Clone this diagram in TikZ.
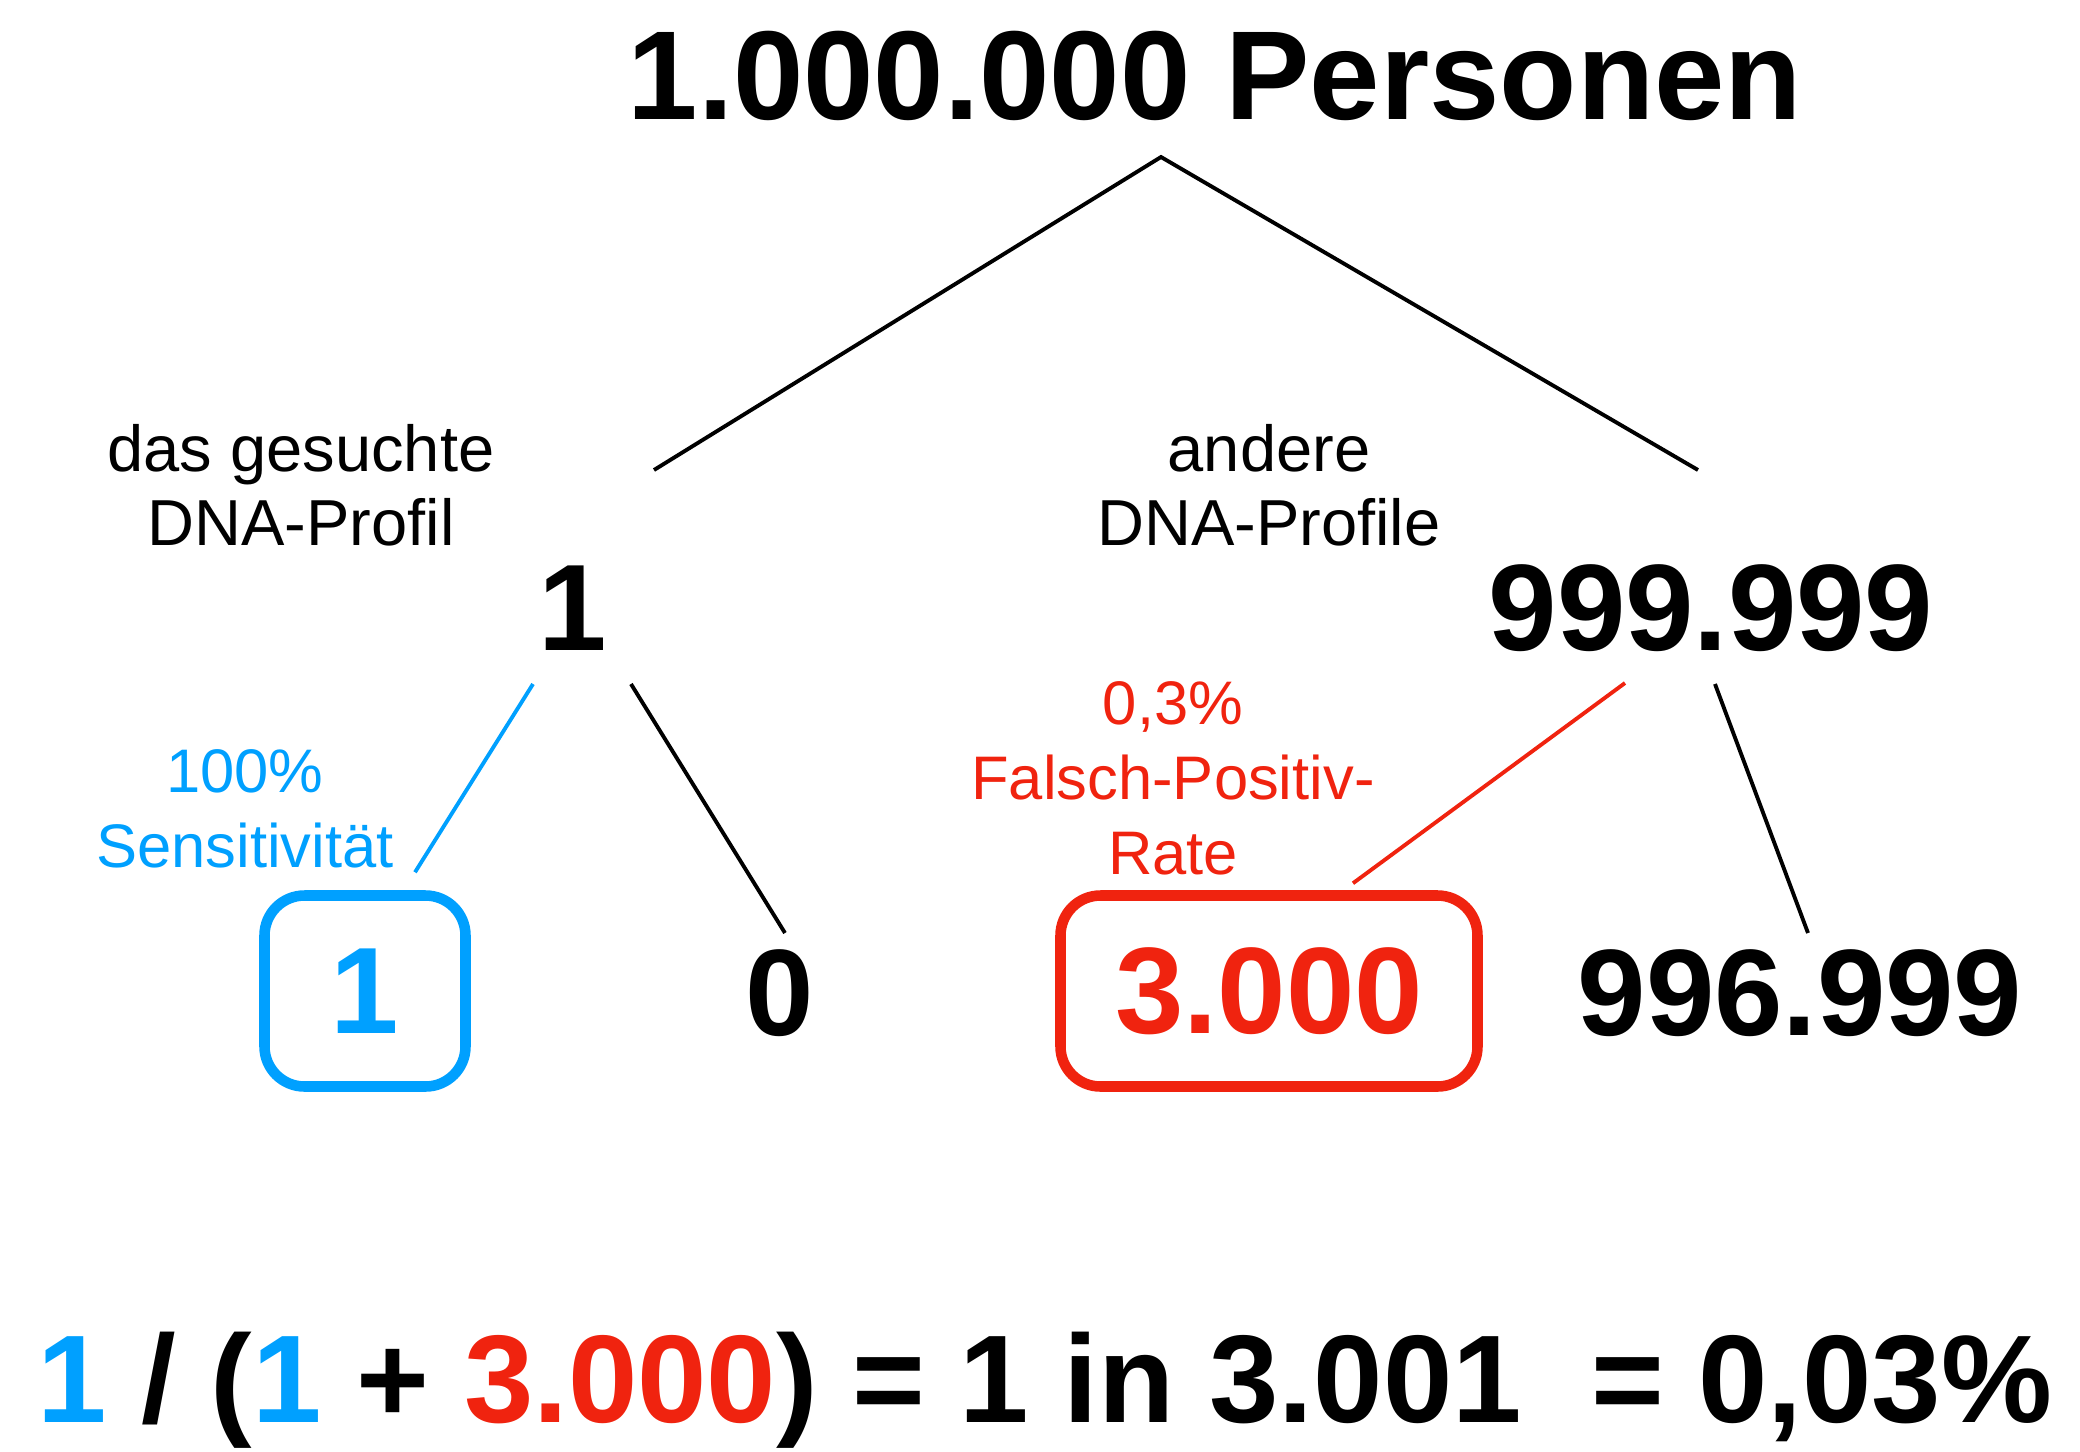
\documentclass[tikz,border=0pt]{standalone}
\usepackage{fontspec}
\setmainfont{Liberation Sans}
\usepackage{tikz}
\usetikzlibrary {calc,
                 positioning}
\definecolor{skyblue}{RGB}{0,160,255}
\definecolor{falsered}{RGB}{240,35,15}
\tikzset{
        big/.style={font=\fontsize{35}{38}\selectfont\bfseries, inner sep=0pt,
                    anchor=base},
        desc/.style={font=\fontsize{18.5}{21}\selectfont, align=center,
                     inner sep=0pt},
        note/.style={font=\fontsize{17.5}{21.3}\selectfont, align=center,
                     inner sep=0pt},
        result/.style={big, anchor=center, draw, rounded corners=0.4cm,
                       line width=3pt, minimum height=1.91cm},
        myline/.style={line width=1.1pt},
 }

\begin{document}
\begin{tikzpicture}[x=1cm, y=-1cm]
    \useasboundingbox (0,0) rectangle (20.8,14.51);

    \node[big, font=\fontsize{36}{40}\selectfont\bfseries] (title) at (12.15,1.19) {1.000.000 Personen};

    \node[big] (one) at (5.73,6.50) {1};
    \node[big] (rest) at (17.11,6.50) {999.999};

    \node[desc] (wanted) at (3.01,4.85) {das gesuchte\\DNA-Profil};
    \node[desc] (others) at (12.69,4.85) {andere\\DNA-Profile};

    % first split
    \draw[myline] ($(one.base)+(0.81,-1.80)$) -- ($(title.base)+(-0.54,0.38)$)
                  -- ($(rest.base)+(-0.13,-1.80)$);

    \node[note, text=skyblue] (sens) at (2.45,8.09) {100\%\\Sensitivität};
    \node[note, text=falsered] (fprate) at (11.73,7.78) {0,3\%\\Falsch-Positiv-\\Rate};

    \node[result, skyblue, minimum width=2.01cm] (hit) at (3.65,9.91) {1};
    \node[big] (zero) at (7.80,10.35) {0};
    \node[result, falsered, minimum width=4.17cm] (falsepos) at (12.69,9.91) {3.000};
    \node[big] (neg) at (18.00,10.35) {996.999};

    % second split
    \draw[myline, skyblue] ($(one.base)+(-0.40,0.34)$) -- ($(hit.north)+(0.50,-0.18)$);
    \draw[myline] ($(one.base)+(0.58,0.34)$) -- ($(zero.base)+(0.05,-1.02)$);
    \draw[myline, falsered] ($(rest.base)+(-0.86,0.33)$) -- ($(falsepos.north)+(0.84,-0.07)$);
    \draw[myline] ($(rest.base)+(0.04,0.34)$) -- ($(neg.base)+(0.08,-1.02)$);

    \node[big, font=\fontsize{35.5}{38}\selectfont\bfseries] (formula) at (10.45,14.22)
        {{\color{skyblue}1} / ({\color{skyblue}1} + {\color{falsered}3.000}) = 1 in 3.001\ \ = 0,03\%};
\end{tikzpicture}
\end{document}
